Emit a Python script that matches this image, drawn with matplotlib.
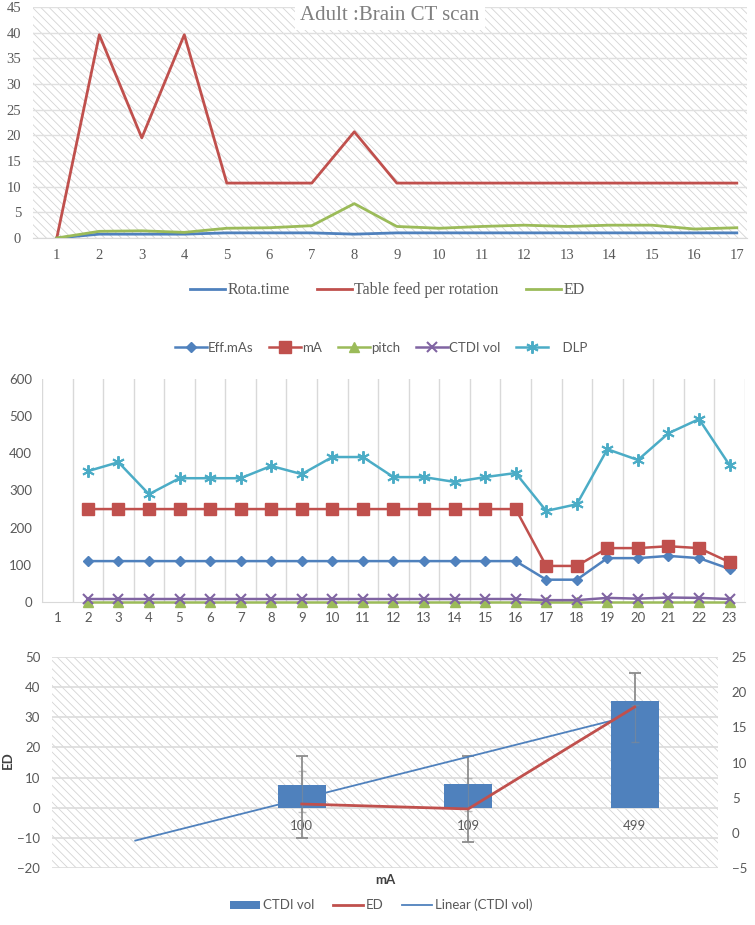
import numpy as np
import matplotlib
matplotlib.use("Agg")
import matplotlib.pyplot as plt
from matplotlib.patches import Rectangle, Patch
from matplotlib.lines import Line2D

# ---- data: top panel (Adult : Brain CT scan) ----
top_x = list(range(1, 18))
rota_time = [0, 0.75, 0.75, 0.75, 1.0, 1.0, 1.0, 0.75, 1.0, 1.0, 1.0, 1.0, 1.0, 1.0, 1.0, 1.0, 1.0]
table_feed = [0, 39.6, 19.5, 39.6, 10.7, 10.7, 10.7, 20.7, 10.7, 10.7, 10.7, 10.7, 10.7, 10.7, 10.7, 10.7, 10.7]
ed_top = [0, 1.3, 1.4, 1.1, 1.9, 2.0, 2.4, 6.7, 2.25, 1.9, 2.25, 2.5, 2.25, 2.5, 2.5, 1.75, 2.0]

# ---- data: middle panel (categories 1..23, series start at 2) ----
mid_cats = list(range(1, 24))
mid_x = list(range(2, 24))
eff_mas = [110] * 15 + [60, 60, 118, 118, 124, 118, 89]
ma = [250] * 15 + [97, 97, 145, 145, 150, 145, 107]
pitch = [1] * 22
ctdi_mid = [8] * 15 + [5, 5, 11, 9, 12, 11, 8]
dlp = [352, 376, 290, 333, 333, 333, 366, 344, 390, 390, 336, 336, 323, 336, 347,
       245, 263, 411, 382, 454, 492, 368]

# ---- data: bottom panel ----
ma_labels = ["100", "109", "499"]
ctdi_vol = [7.5, 7.9, 35.3]
ed_bot = [4.1, 3.4, 17.9]
ctdi_err_lo = [-10, -11.3, 26]
ctdi_err_hi = [17, 17, 44.8]
ed_err_lo = [3.0, 3.1, 12.9]
ed_err_hi = [8.8, 7.8, 18.2]

BLUE, RED, GREEN, PURPLE, CYAN = "#4F81BD", "#C0504D", "#9BBB59", "#8064A2", "#4BACC6"
GRID = "#d9d9d9"
TXT = "#595959"

fig = plt.figure(figsize=(7.55, 9.25), dpi=100)


def hatch_bg(ax):
    ax.add_patch(Rectangle((0, 0), 1, 1, transform=ax.transAxes, facecolor="white",
                           edgecolor="#d4d4d4", hatch="\\\\\\\\", lw=0, zorder=0))


plt.rcParams["hatch.linewidth"] = 0.6

# ================= top panel =================
ax1 = fig.add_axes([0.0437, 0.7427, 0.9457, 0.2497])
hatch_bg(ax1)
ax1.set_axisbelow(True)
ax1.plot(top_x, rota_time, color=BLUE, lw=2, label="Rota.time", zorder=3)
ax1.plot(top_x, table_feed, color=RED, lw=2, label="Table feed per rotation", zorder=3)
ax1.plot(top_x, ed_top, color=GREEN, lw=2, label="ED", zorder=3)
ax1.set_xlim(0.44, 17.24)
ax1.set_ylim(0, 45)
ax1.set_yticks(range(0, 46, 5))
ax1.set_xticks(top_x)
ax1.grid(axis="y", color="#e0e0e0", lw=1)
for s in ["top", "left", "right"]:
    ax1.spines[s].set_visible(False)
ax1.spines["bottom"].set_color(GRID)
ax1.tick_params(length=0, labelsize=10.5, labelcolor=TXT)
ax1.tick_params(axis="y", pad=8.5)
ax1.tick_params(axis="x", pad=8)
for lab in ax1.get_xticklabels() + ax1.get_yticklabels():
    lab.set_family("Liberation Serif")
ax1.text(0.5, 0.965, "Adult :Brain CT scan", transform=ax1.transAxes, ha="center", va="center",
         fontsize=15, color="#7f7f7f", family="Liberation Serif", zorder=5,
         bbox=dict(facecolor="white", edgecolor="none", pad=4))
fig.legend(*ax1.get_legend_handles_labels(), loc="center", bbox_to_anchor=(0.513, 0.686),
           ncol=3, frameon=False, handlelength=2.2, handletextpad=0.15, columnspacing=1.7,
           prop={"family": "Liberation Serif", "size": 11.5}, labelcolor=TXT)

# ================= middle panel =================
ax2 = fig.add_axes([0.0556, 0.3492, 0.931, 0.2411])
ax2.set_axisbelow(True)
ax2.plot(mid_x, eff_mas, color=BLUE, lw=1.8, marker="D", ms=5.5, label="Eff.mAs", zorder=3)
ax2.plot(mid_x, ma, color=RED, lw=1.8, marker="s", ms=8, label="mA", zorder=3)
ax2.plot(mid_x, pitch, color=GREEN, lw=1.8, marker="^", ms=6.5, label="pitch", zorder=3, clip_on=False)
ax2.plot(mid_x, ctdi_mid, color=PURPLE, lw=1.8, marker="x", ms=6.5, mew=1.5, label="CTDI vol",
         zorder=4, clip_on=False)
ax2.plot(mid_x, dlp, color=CYAN, lw=1.8, marker=(6, 2, 0), ms=9, mew=1.4, label="    DLP", zorder=3)
ax2.set_xlim(0.5, 23.5)
ax2.set_ylim(0, 600)
ax2.set_yticks(range(0, 601, 100))
ax2.set_xticks(mid_cats)
ax2.set_xticks(np.arange(0.5, 24, 1), minor=True)
ax2.grid(axis="x", which="minor", color=GRID, lw=1)
for s in ["top", "left", "right"]:
    ax2.spines[s].set_visible(False)
ax2.spines["bottom"].set_color(GRID)
ax2.tick_params(which="both", length=0, labelsize=9.5, labelcolor=TXT)
ax2.tick_params(axis="y", pad=7)
ax2.tick_params(axis="x", pad=7)
for lab in ax2.get_xticklabels() + ax2.get_yticklabels():
    lab.set_family("Lato")
fig.legend(*ax2.get_legend_handles_labels(), loc="center", bbox_to_anchor=(0.505, 0.624),
           ncol=5, frameon=False, handlelength=2.4, handletextpad=0.1, columnspacing=1.2,
           prop={"family": "Lato", "size": 9.5}, labelcolor=TXT)

# ================= bottom panel =================
ax3 = fig.add_axes([0.0689, 0.0616, 0.882, 0.2281])
hatch_bg(ax3)
ax3.set_axisbelow(True)
pos = np.arange(1, len(ma_labels) + 1)
ax3.errorbar(pos, ctdi_vol,
             yerr=[np.array(ctdi_vol) - np.array(ctdi_err_lo), np.array(ctdi_err_hi) - np.array(ctdi_vol)],
             fmt="none", ecolor="#8c8c8c", elinewidth=1.3, capsize=4, capthick=1.3, zorder=2)
ax3.bar(pos, ctdi_vol, width=0.29, color=BLUE, zorder=3, label="CTDI vol")
slope, icpt = np.polyfit(pos, ctdi_vol, 1)
tx = np.array([0, pos[-1]])
ax3.plot(tx, slope * tx + icpt, color=BLUE, lw=1.3, zorder=4)
ax3.set_xlim(-0.5, 3.5)
ax3.set_ylim(-20, 50)
ax3.set_yticks(range(-20, 51, 10))
ax3.set_xticks(pos)
ax3.set_xticklabels(ma_labels)
ax3.spines["bottom"].set_position(("data", 0))
for s in ["top", "left", "right", "bottom"]:
    ax3.spines[s].set_visible(False)
ax3.grid(axis="y", color="#dcdcdc", lw=1.2)
ax3.tick_params(length=0, labelsize=9.5, labelcolor=TXT)
ax3.tick_params(axis="y", pad=8.5)
ax3.tick_params(axis="x", pad=9)
for lab in ax3.get_xticklabels() + ax3.get_yticklabels():
    lab.set_family("Lato")

ax3r = ax3.twinx()
ax3r.plot(pos, ed_bot, color=RED, lw=2, zorder=4)
ax3r.errorbar(pos, ed_bot,
              yerr=[np.array(ed_bot) - np.array(ed_err_lo), np.array(ed_err_hi) - np.array(ed_bot)],
              fmt="none", ecolor="#8c8c8c", elinewidth=0.9, capsize=3, alpha=0.5, zorder=3)
ax3r.set_ylim(-5, 25)
ax3r.set_yticks(range(-5, 26, 5))
for s in ["top", "left", "right", "bottom"]:
    ax3r.spines[s].set_visible(False)
ax3r.tick_params(length=0, labelsize=9.5, labelcolor=TXT, pad=10)
for lab in ax3r.get_yticklabels():
    lab.set_family("Lato")

fig.text(0.51, 1 - 880 / 925, "mA", ha="center", va="center", fontsize=9.5,
         fontweight="bold", color="#404040", family="Lato")
fig.text(0.011, 1 - 760 / 925, "ED", ha="center", va="center", rotation=90, fontsize=9.5,
         fontweight="bold", color="#404040", family="Lato")

handles = [Patch(facecolor=BLUE, edgecolor="none"),
           Line2D([], [], color=RED, lw=2),
           Line2D([], [], color=BLUE, lw=1.3)]
fig.legend(handles, ["CTDI vol", "ED", "Linear (CTDI vol)"], loc="center",
           bbox_to_anchor=(0.505, 1 - 905 / 925), ncol=3, frameon=False,
           handlelength=2.3, handleheight=0.55, handletextpad=0.2, columnspacing=1.4,
           prop={"family": "Lato", "size": 9.5}, labelcolor=TXT)

fig.savefig("out.png", dpi=100, facecolor="white")
